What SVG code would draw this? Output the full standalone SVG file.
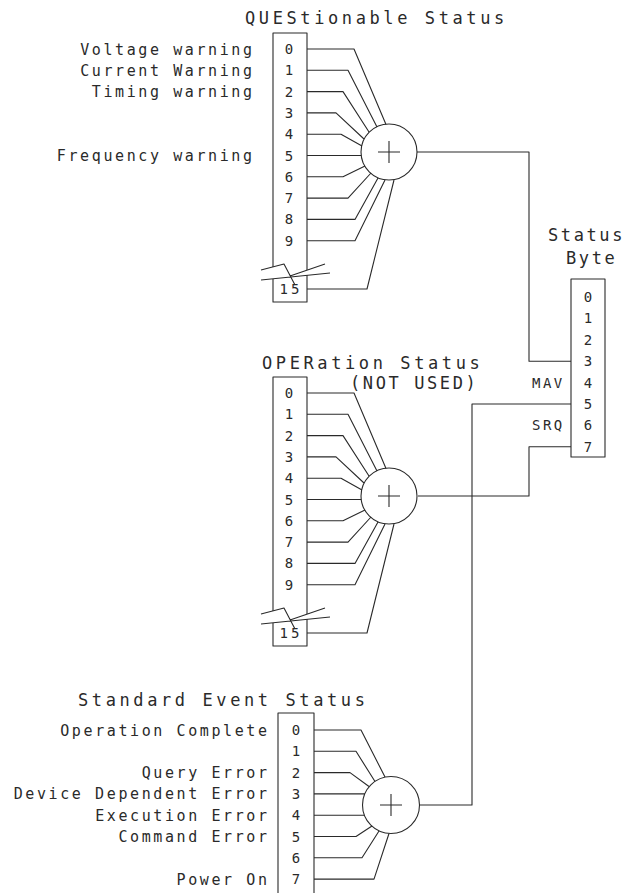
<svg xmlns="http://www.w3.org/2000/svg" width="631" height="893" viewBox="0 0 631 893">
<style>
  .ln{fill:none;stroke:#2a2a2a;stroke-width:1.1;stroke-linejoin:round}
  .title{font-family:"DejaVu Sans Mono","Liberation Mono",monospace;font-size:17px;letter-spacing:3.6px;fill:#2a2a2a}
  .lbl{font-family:"DejaVu Sans Mono","Liberation Mono",monospace;font-size:15px;letter-spacing:2.6px;fill:#2a2a2a;text-anchor:end}
  .dg{font-family:"DejaVu Sans Mono","Liberation Mono",monospace;font-size:14px;fill:#2a2a2a;text-anchor:middle}
  .sb{font-family:"DejaVu Sans Mono","Liberation Mono",monospace;font-size:14px;letter-spacing:2.5px;fill:#2a2a2a}
</style>
<rect width="631" height="893" fill="#fff"/>

<g id="connectors" class="ln">
  <g id="ques-fan">
    <path d="M307,49 H354 L386,124.5"/>
    <path d="M307,70.3 H348 L377,127"/>
    <path d="M307,91.6 H343 L369,132"/>
    <path d="M307,112.9 H336 L364,139"/>
    <path d="M307,134.2 H341 L362,146"/>
    <path d="M307,155.5 H361.3"/>
    <path d="M307,176.8 H343 L365,166"/>
    <path d="M307,198.1 H348 L371,173"/>
    <path d="M307,219.4 H355 L378,178"/>
    <path d="M307,240.7 H355 L385,180"/>
    <path d="M307,289 H367 L394,180"/>
  </g>
  <g id="oper-fan" transform="translate(0,344)">
    <path d="M307,49 H354 L386,124.5"/>
    <path d="M307,70.3 H348 L377,127"/>
    <path d="M307,91.6 H343 L369,132"/>
    <path d="M307,112.9 H336 L364,139"/>
    <path d="M307,134.2 H341 L362,146"/>
    <path d="M307,155.5 H361.3"/>
    <path d="M307,176.8 H343 L365,166"/>
    <path d="M307,198.1 H348 L371,173"/>
    <path d="M307,219.4 H355 L378,178"/>
    <path d="M307,240.7 H355 L385,180"/>
    <path d="M307,289 H367 L394,180"/>
  </g>
  <g id="std-fan">
    <path d="M314,730 H361 L385,777"/>
    <path d="M314,751.3 H356 L375,781.5"/>
    <path d="M314,772.6 H350 L369,786.5"/>
    <path d="M314,793.9 H364.8"/>
    <path d="M314,815.2 H364.3"/>
    <path d="M314,836.5 H356 L372,826"/>
    <path d="M314,857.8 H362 L379,831"/>
    <path d="M314,879.1 H374 L389,833.5"/>
  </g>
  <path id="ques-to-sb3" d="M417,152 H529 V361.2 H571"/>
  <path id="oper-to-sb7" d="M418,496 H529 V446.8 H571"/>
  <path id="std-to-sb5" d="M419.5,805 H472 V404 H571"/>
</g>

<g id="reg-ques">
  <text class="title" x="245" y="24">QUEStionable Status</text>
  <path class="ln" d="M273,267 V33 H307 V270"/>
  <path class="ln" d="M273,279 V302 H307 V275"/>
  <path class="ln" d="M261,270 L284,264 L295,285 M261,280 L330,273 M290,276 L325,264"/>
  <text class="dg" x="289" y="54">0</text>
  <text class="dg" x="289" y="75.3">1</text>
  <text class="dg" x="289" y="96.6">2</text>
  <text class="dg" x="289" y="117.9">3</text>
  <text class="dg" x="289" y="139.2">4</text>
  <text class="dg" x="289" y="160.5">5</text>
  <text class="dg" x="289" y="181.8">6</text>
  <text class="dg" x="289" y="203.1">7</text>
  <text class="dg" x="289" y="224.4">8</text>
  <text class="dg" x="289" y="245.7">9</text>
  <text class="dg" x="291" y="294" style="letter-spacing:3px">15</text>
  <text class="lbl" x="254.6" y="54.5">Voltage warning</text>
  <text class="lbl" x="254.6" y="75.8">Current Warning</text>
  <text class="lbl" x="254.6" y="97.1">Timing warning</text>
  <text class="lbl" x="254.6" y="161">Frequency warning</text>
</g>

<g id="sum-ques">
  <circle class="ln" cx="389" cy="152" r="28"/>
  <path class="ln" d="M378,152 H400 M389,141 V163"/>
</g>

<g id="reg-oper">
  <text class="title" x="262" y="369">OPERation Status</text>
  <text class="title" x="350" y="389" style="letter-spacing:2.6px">(NOT USED)</text>
  <g transform="translate(0,344)">
    <path class="ln" d="M273,267 V33 H307 V270"/>
    <path class="ln" d="M273,279 V302 H307 V275"/>
    <path class="ln" d="M261,270 L284,264 L295,285 M261,280 L330,273 M290,276 L325,264"/>
  </g>
  <text class="dg" x="289" y="398">0</text>
  <text class="dg" x="289" y="419.3">1</text>
  <text class="dg" x="289" y="440.6">2</text>
  <text class="dg" x="289" y="461.9">3</text>
  <text class="dg" x="289" y="483.2">4</text>
  <text class="dg" x="289" y="504.5">5</text>
  <text class="dg" x="289" y="525.8">6</text>
  <text class="dg" x="289" y="547.1">7</text>
  <text class="dg" x="289" y="568.4">8</text>
  <text class="dg" x="289" y="589.7">9</text>
  <text class="dg" x="291" y="638" style="letter-spacing:3px">15</text>
</g>

<g id="sum-oper">
  <circle class="ln" cx="389" cy="496" r="28"/>
  <path class="ln" d="M378,496 H400 M389,485 V507"/>
</g>

<g id="reg-std">
  <text class="title" x="78" y="706">Standard Event Status</text>
  <path class="ln" d="M278,895 V713 H314 V895"/>
  <text class="dg" x="296" y="735">0</text>
  <text class="dg" x="296" y="756.3">1</text>
  <text class="dg" x="296" y="777.6">2</text>
  <text class="dg" x="296" y="798.9">3</text>
  <text class="dg" x="296" y="820.2">4</text>
  <text class="dg" x="296" y="841.5">5</text>
  <text class="dg" x="296" y="862.8">6</text>
  <text class="dg" x="296" y="884.1">7</text>
  <text class="lbl" x="269.6" y="735.5">Operation Complete</text>
  <text class="lbl" x="269.6" y="778.1">Query Error</text>
  <text class="lbl" x="269.6" y="799.4">Device Dependent Error</text>
  <text class="lbl" x="269.6" y="820.7">Execution Error</text>
  <text class="lbl" x="269.6" y="842">Command Error</text>
  <text class="lbl" x="269.6" y="884.6">Power On</text>
</g>

<g id="sum-std">
  <circle class="ln" cx="391" cy="805" r="28.5"/>
  <path class="ln" d="M380,805 H402 M391,794 V816"/>
</g>

<g id="status-byte">
  <text class="title" x="548" y="241" style="letter-spacing:2.6px">Status</text>
  <text class="title" x="566" y="264" style="letter-spacing:2.6px">Byte</text>
  <rect class="ln" x="571" y="279" width="34" height="178"/>
  <text class="dg" x="588" y="302">0</text>
  <text class="dg" x="588" y="323.4">1</text>
  <text class="dg" x="588" y="344.8">2</text>
  <text class="dg" x="588" y="366.2">3</text>
  <text class="dg" x="588" y="387.6">4</text>
  <text class="dg" x="588" y="409">5</text>
  <text class="dg" x="588" y="430.4">6</text>
  <text class="dg" x="588" y="451.8">7</text>
  <text class="sb" x="532" y="388">MAV</text>
  <text class="sb" x="532" y="430">SRQ</text>
</g>
</svg>
